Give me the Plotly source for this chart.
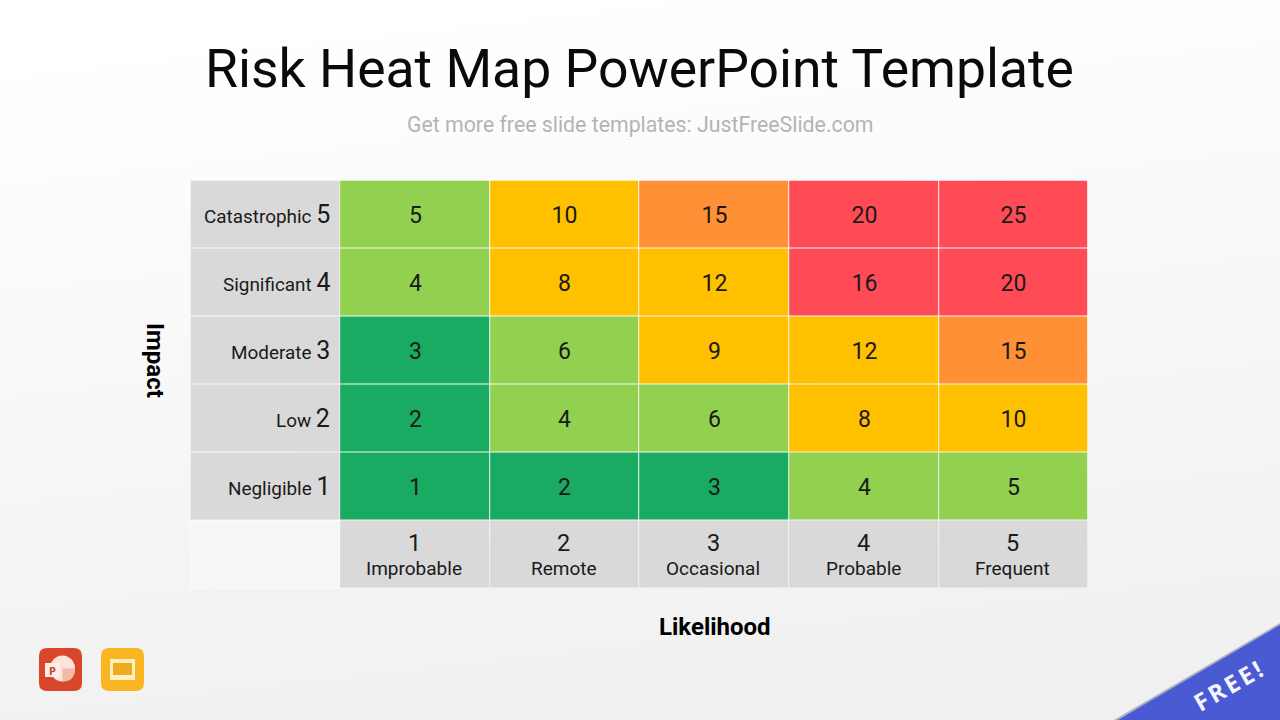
import base64
import plotly.graph_objects as go

W, H = 1280, 720

# Dados da matriz de risco
impact_levels = [1, 2, 3, 4, 5]
likelihood_levels = [1, 2, 3, 4, 5]
impact_names = ["Negligible", "Low", "Moderate", "Significant", "Catastrophic"]
likelihood_names = ["Improbable", "Remote", "Occasional", "Probable", "Frequent"]
scores = [
    [1, 2, 3, 4, 5],
    [2, 4, 6, 8, 10],
    [3, 6, 9, 12, 15],
    [4, 8, 12, 16, 20],
    [5, 10, 15, 20, 25],
]

DARK_GREEN = "#19AB62"
GREEN = "#92D050"
AMBER = "#FFC000"
ORANGE = "#FF9035"
RED = "#FF4B55"
GRAY = "#D9D9D9"
TEXT = "#1A1A1A"

# Escala discreta: 1-3, 4-7, 8-14, 15, 16-25
def band(lo, hi, color):
    return [[lo / 25, color], [hi / 25, color]]

colorscale = band(0, 3.5, DARK_GREEN) + band(3.5, 7, GREEN) + band(7, 14, AMBER) + band(14, 15.5, ORANGE) + band(15.5, 25, RED)

# Converter pixels em coordenadas do papel
def px(x):
    return x / W

def py(y):
    return 1 - y / H

def path(points):
    return "M " + " L ".join(f"{px(x):.5f},{py(y):.5f}" for x, y in points) + " Z"

def rounded(x0, y0, x1, y1, r):
    return (
        f"M {px(x0 + r):.5f},{py(y0):.5f} L {px(x1 - r):.5f},{py(y0):.5f} "
        f"Q {px(x1):.5f},{py(y0):.5f} {px(x1):.5f},{py(y0 + r):.5f} "
        f"L {px(x1):.5f},{py(y1 - r):.5f} Q {px(x1):.5f},{py(y1):.5f} {px(x1 - r):.5f},{py(y1):.5f} "
        f"L {px(x0 + r):.5f},{py(y1):.5f} Q {px(x0):.5f},{py(y1):.5f} {px(x0):.5f},{py(y1 - r):.5f} "
        f"L {px(x0):.5f},{py(y0 + r):.5f} Q {px(x0):.5f},{py(y0):.5f} {px(x0 + r):.5f},{py(y0):.5f} Z"
    )

def rect(x0, y0, x1, y1, color, layer="above", line=None):
    return dict(type="rect", xref="paper", yref="paper", x0=px(x0), x1=px(x1), y0=py(y1), y1=py(y0),
                fillcolor=color, line=dict(width=1 if line else 0, color=line or color), layer=layer)

def shape_path(d, color, layer="above"):
    return dict(type="path", xref="paper", yref="paper", path=d, fillcolor=color, line_width=0, layer=layer)

fig = go.Figure()

# Células coloridas
fig.add_trace(go.Heatmap(
    x=likelihood_levels, y=impact_levels, z=scores,
    zmin=0, zmax=25, colorscale=colorscale, showscale=False,
    xgap=1, ygap=1, hoverinfo="skip",
    texttemplate="%{z}", textfont=dict(family="Roboto", size=23, color=TEXT),
))

# Coluna e linha de rótulos em cinza
fig.add_trace(go.Heatmap(
    x=[0], y=impact_levels, z=[[v] for v in impact_levels],
    colorscale=[[0, GRAY], [1, GRAY]], showscale=False,
    xgap=1, ygap=1, hoverinfo="skip",
))
fig.add_trace(go.Heatmap(
    x=likelihood_levels, y=[0], z=[likelihood_levels],
    colorscale=[[0, GRAY], [1, GRAY]], showscale=False,
    xgap=1, ygap=1, hoverinfo="skip",
))

annotations = []

for level, name in zip(impact_levels, impact_names):
    annotations.append(dict(
        x=0.447, y=level, xref="x", yref="y", xanchor="right", yanchor="middle", showarrow=False,
        align="right", text=f"<span style='font-size:18.9px'>{name} </span><span style='font-size:25px'>{level}</span>",
        font=dict(family="Roboto", color=TEXT),
    ))

for level, name in zip(likelihood_levels, likelihood_names):
    annotations.append(dict(
        x=level - 0.006, y=py(543), xref="x", yref="paper", xanchor="center", yanchor="middle", showarrow=False,
        text=str(level), font=dict(family="Roboto", size=23.5, color=TEXT),
    ))
    annotations.append(dict(
        x=level - 0.006, y=py(568.5), xref="x", yref="paper", xanchor="center", yanchor="middle", showarrow=False,
        text=name, font=dict(family="Roboto", size=19, color=TEXT),
    ))

def label(x, y, text, size, color=TEXT, family="Roboto", angle=0):
    annotations.append(dict(
        x=px(x), y=py(y), xref="paper", yref="paper", xanchor="center", yanchor="middle", showarrow=False,
        text=text, textangle=angle, font=dict(family=family, size=size, color=color),
    ))

label(639, 68, "Risk Heat Map PowerPoint Template", 53.5, "#0A0A0A")
label(640, 124, "Get more free slide templates: JustFreeSlide.com", 21.3, "#B4B4B4")
label(155, 360, "<b>Impact</b>", 24, "#000000", angle=90)
label(714.5, 627, "<b>Likelihood</b>", 24, "#000000")
label(1229, 684, "<span style='letter-spacing:3px'><b>FREE!</b></span>", 24, "#F4F5FF", "Open Sans", angle=-30)
label(52.5, 670, "<b>P</b>", 11, "#C8452A", "Open Sans")

# Fundo com gradiente suave
bg_svg = (
    f"<svg xmlns='http://www.w3.org/2000/svg' width='{W}' height='{H}'>"
    "<defs><linearGradient id='g' x1='0.35' y1='0' x2='0.55' y2='1'>"
    "<stop offset='0' stop-color='#FFFFFF'/><stop offset='1' stop-color='#F0F0F0'/>"
    "</linearGradient></defs>"
    f"<rect width='{W}' height='{H}' fill='url(#g)'/></svg>"
)
bg_uri = "data:image/svg+xml;base64," + base64.b64encode(bg_svg.encode()).decode()

wedge = (
    f"M {px(62.5):.5f},{py(668.5):.5f} L {px(75):.5f},{py(668.5):.5f} "
    f"Q {px(75):.5f},{py(681.5):.5f} {px(62.5):.5f},{py(681.5):.5f} Z"
)

shapes = [
    # Célula vazia do canto
    rect(190.5, 520.5, 340, 588, "#F6F6F6", "below", line="#FBFBFB"),
    # Ícone PowerPoint
    shape_path(rounded(39, 648, 82, 691, 8), "#D9472B"),
    dict(type="circle", xref="paper", yref="paper", x0=px(50), x1=px(75), y0=py(681.5), y1=py(655.5),
         fillcolor="#FBE3DA", line_width=0),
    shape_path(wedge, "#F3B9A8"),
    rect(45, 663, 60, 677, "#FBEDE8"),
    # Ícone Slides
    shape_path(rounded(101, 648, 144, 691, 8), "#F9B621"),
    rect(110, 659, 135, 680, "#FFF0C0"),
    rect(113, 663, 132, 675, "#EFAA1E"),
    # Faixa FREE
    shape_path(path([(1114, 720), (1280, 623), (1280, 627), (1122, 720)]), "rgba(40,50,110,0.35)"),
    shape_path(path([(1118, 720), (1280, 625), (1280, 720)]), "#4A5AD2"),
]

fig.update_layout(
    width=W, height=H,
    margin=dict(l=0, r=0, t=0, b=0),
    paper_bgcolor="rgba(0,0,0,0)",
    plot_bgcolor="rgba(0,0,0,0)",
    showlegend=False,
    xaxis=dict(domain=[px(190.5), px(1088.5)], range=[-0.5, 5.5], visible=False, fixedrange=True),
    yaxis=dict(domain=[py(588.5), py(180.5)], range=[-0.5, 5.5], visible=False, fixedrange=True),
    images=[dict(source=bg_uri, xref="paper", yref="paper", x=0, y=1, sizex=1, sizey=1,
                 sizing="stretch", xanchor="left", yanchor="top", layer="below")],
    shapes=shapes,
    annotations=annotations,
)

fig.write_html("out.html", config=dict(displayModeBar=False),
               post_script="document.body.style.margin='0';")
